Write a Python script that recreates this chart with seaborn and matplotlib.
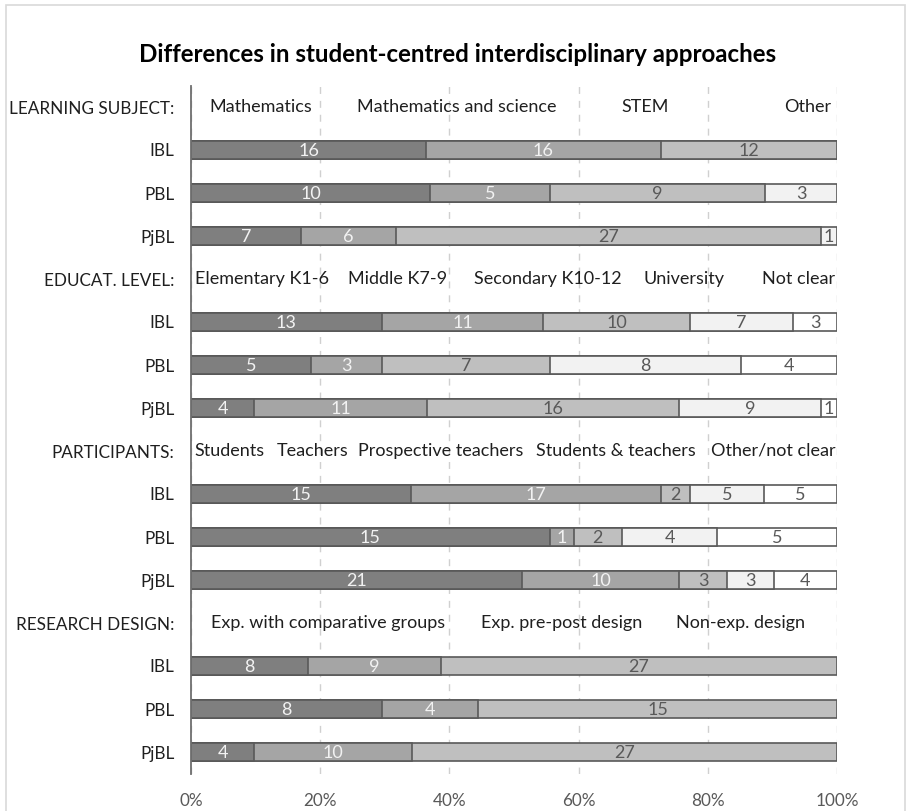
import numpy as np
import pandas as pd
import matplotlib
matplotlib.use("Agg")
import matplotlib.pyplot as plt
import seaborn as sns
from matplotlib.patches import Rectangle

# ---- data -------------------------------------------------------------
approaches = ["IBL", "PBL", "PjBL"]

sections = ["LEARNING SUBJECT:", "EDUCAT. LEVEL:", "PARTICIPANTS:", "RESEARCH DESIGN:"]

subject_categories = ["Mathematics", "Mathematics and science", "STEM", "Other"]
subject_counts = [[16, 16, 12, 0],
                  [10, 5, 9, 3],
                  [7, 6, 27, 1]]

level_categories = ["Elementary K1-6", "Middle K7-9", "Secondary K10-12",
                    "University", "Not clear"]
level_counts = [[13, 11, 10, 7, 3],
                [5, 3, 7, 8, 4],
                [4, 11, 16, 9, 1]]

participant_categories = ["Students", "Teachers", "Prospective teachers",
                          "Students & teachers", "Other/not clear"]
participant_counts = [[15, 17, 2, 5, 5],
                      [15, 1, 2, 4, 5],
                      [21, 10, 3, 3, 4]]

design_categories = ["Exp. with comparative groups", "Exp. pre-post design",
                     "Non-exp. design"]
design_counts = [[8, 9, 27],
                 [8, 4, 15],
                 [4, 10, 27]]

tick_values = [0, 20, 40, 60, 80, 100]
tick_labels = ["0%", "20%", "40%", "60%", "80%", "100%"]

# ---- layout / style ---------------------------------------------------
# horizontal centres (in % of the axis) of the category captions in each header row
subject_caption_x = [10.8, 41.2, 70.3, 95.5]
level_caption_x = [11.0, 31.9, 55.3, 76.3, 94.0]
participant_caption_x = [6.0, 18.9, 38.7, 65.8, 90.2]
design_caption_x = [21.2, 57.3, 85.1]

fills = ["#7f7f7f", "#a5a5a5", "#bfbfbf", "#f2f2f2", "#ffffff"]
value_colors = ["#f2f2f2", "#f2f2f2", "#595959", "#595959", "#595959"]
edge = "#595959"
FS_ROW = 12.3
FS_CAP = 13.0
FS_VAL = 13.0

sns.set_theme(style="white")
plt.rcParams["font.family"] = ["Lato", "DejaVu Sans"]

blocks = [
    (sections[0], subject_categories, subject_counts, subject_caption_x),
    (sections[1], level_categories, level_counts, level_caption_x),
    (sections[2], participant_categories, participant_counts, participant_caption_x),
    (sections[3], design_categories, design_counts, design_caption_x),
]

# ---- long table: one record per segment, with cumulative share ---------
row_order, row_names, records, captions = [], [], [], []
for sec, cats, counts, cap_x in blocks:
    row_order.append(sec)
    row_names.append(sec)
    captions.append((sec, cats, cap_x))
    for appr, vals in zip(approaches, counts):
        key = f"{sec}|{appr}"
        row_order.append(key)
        row_names.append(appr)
        total = sum(vals)
        cum = 0.0
        for k, v in enumerate(vals):
            pct = 100.0 * v / total
            records.append(dict(row=key, layer=k, count=v,
                                start=cum, cum=cum + pct))
            cum += pct
df = pd.DataFrame(records)

fig = plt.figure(figsize=(9.08, 8.11), dpi=100)
ax = fig.add_axes([191 / 908, 1 - 773.5 / 811, 646 / 908, (773.5 - 85.5) / 811])

# stacked bars: draw cumulative totals from the last layer to the first
for k in sorted(df["layer"].unique(), reverse=True):
    sub = df[df["layer"] == k]
    sns.barplot(data=sub, y="row", x="cum", order=row_order, orient="h",
                color=fills[k], saturation=1, edgecolor=edge, linewidth=1.2,
                width=0.43, errorbar=None, ax=ax, zorder=3)

# value labels in the middle of each segment
pos = {r: i for i, r in enumerate(row_order)}
for rec in df.itertuples():
    if rec.count == 0:
        continue
    ax.text((rec.start + rec.cum) / 2, pos[rec.row] + 0.03, str(rec.count),
            ha="center", va="center", fontsize=FS_VAL,
            color=value_colors[rec.layer], zorder=5)

# category captions in the header rows
for sec, cats, cap_x in captions:
    for name, x in zip(cats, cap_x):
        ax.text(x, pos[sec], name, ha="center", va="center",
                fontsize=FS_CAP, color="#1f1f1f", zorder=5)

ax.set_xlim(0, 100)
ax.set_ylim(len(row_order) - 0.5, -0.5)
ax.set_xticks(tick_values)
ax.set_xticklabels(tick_labels, fontsize=FS_ROW, color="#595959")
ax.set_yticks(range(len(row_order)))
ax.set_yticklabels(row_names, fontsize=FS_ROW, color="#1f1f1f")
ax.tick_params(axis="x", length=0, pad=14)
ax.tick_params(axis="y", length=0, pad=12)
ax.set_xlabel("")
ax.set_ylabel("")

ax.xaxis.grid(True, color="#d0d0d0", linewidth=1.0, linestyle=(0, (5, 5)))
ax.yaxis.grid(False)
ax.set_axisbelow(True)
for s in ["top", "right", "bottom"]:
    ax.spines[s].set_visible(False)
ax.spines["left"].set_color("#6e6e6e")
ax.spines["left"].set_linewidth(1.3)
ax.spines["left"].set_zorder(6)

fig.text(458 / 908, 1 - 55 / 811,
         "Differences in student-centred interdisciplinary approaches",
         ha="center", va="center", fontsize=17.4, fontweight="bold", color="#000000")

# thin frame around the chart area
fig.patches.append(Rectangle((6 / 908, -0.02), (905 - 6) / 908, 1.02 - 4.5 / 811,
                             transform=fig.transFigure, fill=False,
                             edgecolor="#d9d9d9", linewidth=1.2, zorder=0))

fig.savefig("out.png", dpi=100)
